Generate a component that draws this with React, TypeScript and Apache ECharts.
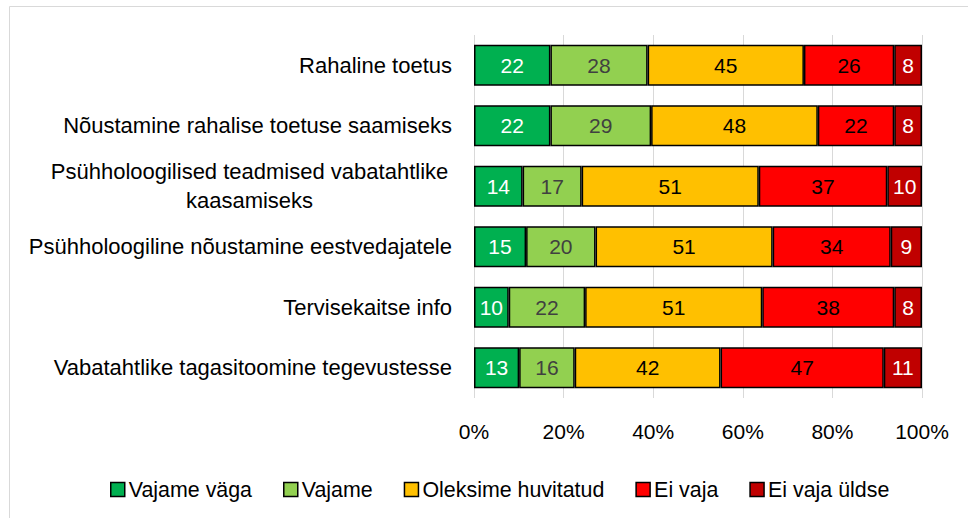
import React, { useEffect, useRef } from "react";
import * as echarts from "echarts";

const categories = [
  "Rahaline toetus",
  "Nõustamine rahalise toetuse saamiseks",
  "Psühholoogilised teadmised vabatahtlike\nkaasamiseks",
  "Psühholoogiline nõustamine eestvedajatele",
  "Tervisekaitse info",
  "Vabatahtlike tagasitoomine tegevustesse",
];
const seriesNames = ["Vajame väga", "Vajame", "Oleksime huvitatud", "Ei vaja", "Ei vaja üldse"];
const vajameVaga = [22, 22, 14, 15, 10, 13];
const vajame = [28, 29, 17, 20, 22, 16];
const oleksime = [45, 48, 51, 51, 51, 42];
const eiVaja = [26, 22, 37, 34, 38, 47];
const eiVajaYldse = [8, 8, 10, 9, 8, 11];
const axisTicks = ["0%", "20%", "40%", "60%", "80%", "100%"];

const colors = ["#00B050", "#92D050", "#FFC000", "#FF0000", "#C00000"];
const labelColors = ["#FFFFFF", "#404040", "#000000", "#000000", "#FFFFFF"];
const FONT = "Liberation Sans";

export default function App() {
  const ref = useRef<HTMLDivElement>(null);
  useEffect(() => {
    const chart = echarts.init(ref.current!, undefined, { renderer: "svg" });
    const raw = [vajameVaga, vajame, oleksime, eiVaja, eiVajaYldse];
    const totals = categories.map((_, i) => raw.reduce((s, a) => s + a[i], 0));
    const series = raw.map((arr, k) => ({
      name: seriesNames[k],
      type: "bar",
      stack: "total",
      barCategoryGap: "32%",
      data: arr.map((v, i) => ({ value: (v / totals[i]) * 100, raw: v })),
      itemStyle: { color: colors[k], borderColor: "#000000", borderWidth: 1.5 },
      label: {
        show: true,
        position: "inside",
        color: labelColors[k],
        fontFamily: FONT,
        fontSize: 21,
        formatter: (p: any) => String(p.data.raw),
      },
      emphasis: { disabled: true },
    }));
    chart.setOption({
      animation: false,
      color: colors,
      textStyle: { fontFamily: FONT },
      graphic: [
        {
          type: "rect",
          shape: { x: 9.5, y: 6.5, width: 1000, height: 600 },
          style: { fill: "none", stroke: "#D9D9D9", lineWidth: 1 },
          silent: true,
        },
      ],
      grid: { left: 474, right: 46, top: 35, bottom: 120, containLabel: false },
      xAxis: {
        type: "value",
        min: 0,
        max: 100,
        interval: 20,
        axisLine: { show: false },
        axisTick: { show: false },
        splitLine: { show: true, lineStyle: { color: "#D9D9D9", width: 1 } },
        axisLabel: {
          color: "#000000",
          fontFamily: FONT,
          fontSize: 21,
          margin: 23,
          formatter: (v: number) => axisTicks[Math.round(v / 20)],
        },
      },
      yAxis: {
        type: "category",
        inverse: true,
        data: categories,
        axisLine: { show: false },
        axisTick: { show: false },
        axisLabel: {
          color: "#000000",
          fontFamily: FONT,
          fontSize: 22,
          margin: 22,
          lineHeight: 29,
          formatter: (v: string) =>
            v.includes("\n")
              ? v
                  .split("\n")
                  .map((l) => `{c|${l}}`)
                  .join("\n")
              : v,
          rich: {
            c: { width: 405, align: "center", fontFamily: FONT, fontSize: 22, lineHeight: 29, color: "#000000" },
          },
        },
      },
      legend: {
        top: 474,
        left: 105,
        itemWidth: 14,
        itemHeight: 14,
        itemGap: 31,
        icon: "rect",
        textStyle: { fontFamily: FONT, fontSize: 21.4, color: "#000000", padding: [0, 0, 0, -1] },
        itemStyle: { borderColor: "#000000", borderWidth: 1.5 },
        data: seriesNames,
        selectedMode: false,
      },
      series,
    });
    return () => chart.dispose();
  }, []);
  return <div ref={ref} style={{ position: "absolute", left: 0, top: 0, width: 968, height: 518 }} />;
}
